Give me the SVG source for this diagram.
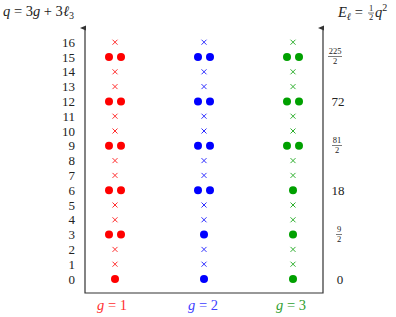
<svg xmlns="http://www.w3.org/2000/svg" width="396" height="317" viewBox="0 0 396 317">
<style>
text{font-family:"Liberation Serif","DejaVu Serif",serif;fill:#222}
.n{font-size:13px;text-anchor:end}
.r{font-size:13px;text-anchor:middle}
.f{font-size:8.5px;text-anchor:middle}
.i{font-style:italic}
.ax{stroke:#333;stroke-width:1.2;fill:none}
.xr{stroke:#ff3030;stroke-width:1}
.xb{stroke:#3030ff;stroke-width:1}
.xg{stroke:#30b030;stroke-width:1}
.dr{fill:#ff0000}
.db{fill:#0000ff}
.dg{fill:#00a000}
</style>
<defs>
<marker id="ah" markerWidth="6" markerHeight="6" refX="3" refY="5" orient="auto-start-reverse" markerUnits="userSpaceOnUse" viewBox="0 0 6 6">
<path d="M0.5,6 L3,0 L5.5,6 Z" fill="#333"/>
</marker>
<path id="x" d="M-2.5,-2.5 L2.5,2.5 M-2.5,2.5 L2.5,-2.5"/>
</defs>
<g id="titles">
<text x="3" y="16" font-size="14.5"><tspan class="i">q</tspan> = 3<tspan class="i">g</tspan> + 3<tspan class="i">ℓ</tspan><tspan font-size="10" dy="3">3</tspan></text>
<text x="338" y="17" font-size="14.5"><tspan class="i">E</tspan><tspan class="i" font-size="10" dy="3">ℓ</tspan><tspan dy="-3"> = </tspan></text>
<text x="371" y="11" class="f" font-size="7.5">1</text>
<line x1="368" y1="13" x2="374" y2="13" stroke="#222" stroke-width="0.6"/>
<text x="371" y="20" class="f" font-size="7.5">2</text>
<text x="375" y="17" font-size="14.5"><tspan class="i">q</tspan><tspan font-size="10" dy="-6">2</tspan></text>
</g>
<g id="connectors">
<path class="ax" d="M85,28 L85,293 L323,293 L323,28" marker-start="url(#ah)" marker-end="url(#ah)"/>
</g>
<g id="qlabels">
<text class="n" x="75" y="283.5">0</text>
<text class="n" x="75" y="268.7">1</text>
<text class="n" x="75" y="253.9">2</text>
<text class="n" x="75" y="239.1">3</text>
<text class="n" x="75" y="224.3">4</text>
<text class="n" x="75" y="209.5">5</text>
<text class="n" x="75" y="194.7">6</text>
<text class="n" x="75" y="179.9">7</text>
<text class="n" x="75" y="165.1">8</text>
<text class="n" x="75" y="150.3">9</text>
<text class="n" x="75" y="135.5">10</text>
<text class="n" x="75" y="120.7">11</text>
<text class="n" x="75" y="105.9">12</text>
<text class="n" x="75" y="91.1">13</text>
<text class="n" x="75" y="76.3">14</text>
<text class="n" x="75" y="61.5">15</text>
<text class="n" x="75" y="46.7">16</text>
</g>
<g id="elabels">
<text class="r" x="340" y="283.5">0</text>
<text class="f" x="339" y="232">9</text>
<line x1="336" y1="234.5" x2="342" y2="234.5" stroke="#222" stroke-width="0.6"/>
<text class="f" x="339" y="241.5">2</text>
<text class="r" x="338" y="194.7">18</text>
<text class="f" x="337" y="143">81</text>
<line x1="332" y1="145.5" x2="342" y2="145.5" stroke="#222" stroke-width="0.6"/>
<text class="f" x="337" y="152.5">2</text>
<text class="r" x="338" y="105.9">72</text>
<text class="f" x="335" y="54">225</text>
<line x1="328" y1="56.5" x2="342" y2="56.5" stroke="#222" stroke-width="0.6"/>
<text class="f" x="335" y="63.5">2</text>
</g>
<g id="col-g1">
<circle class="dr" cx="115" cy="279" r="4"/>
<use href="#x" class="xr" x="115" y="264.2"/>
<use href="#x" class="xr" x="115" y="249.4"/>
<circle class="dr" cx="109" cy="234.6" r="4"/><circle class="dr" cx="121" cy="234.6" r="4"/>
<use href="#x" class="xr" x="115" y="219.8"/>
<use href="#x" class="xr" x="115" y="205"/>
<circle class="dr" cx="109" cy="190.2" r="4"/><circle class="dr" cx="121" cy="190.2" r="4"/>
<use href="#x" class="xr" x="115" y="175.4"/>
<use href="#x" class="xr" x="115" y="160.6"/>
<circle class="dr" cx="109" cy="145.8" r="4"/><circle class="dr" cx="121" cy="145.8" r="4"/>
<use href="#x" class="xr" x="115" y="131"/>
<use href="#x" class="xr" x="115" y="116.2"/>
<circle class="dr" cx="109" cy="101.4" r="4"/><circle class="dr" cx="121" cy="101.4" r="4"/>
<use href="#x" class="xr" x="115" y="86.6"/>
<use href="#x" class="xr" x="115" y="71.8"/>
<circle class="dr" cx="109" cy="57" r="4"/><circle class="dr" cx="121" cy="57" r="4"/>
<use href="#x" class="xr" x="115" y="42.2"/>
<text x="112" y="310" font-size="14.5" text-anchor="middle" style="fill:#ff3030"><tspan class="i">g</tspan> = 1</text>
</g>
<g id="col-g2">
<circle class="db" cx="204" cy="279" r="4"/>
<use href="#x" class="xb" x="204" y="264.2"/>
<use href="#x" class="xb" x="204" y="249.4"/>
<circle class="db" cx="204" cy="234.6" r="4"/>
<use href="#x" class="xb" x="204" y="219.8"/>
<use href="#x" class="xb" x="204" y="205"/>
<circle class="db" cx="198" cy="190.2" r="4"/><circle class="db" cx="210" cy="190.2" r="4"/>
<use href="#x" class="xb" x="204" y="175.4"/>
<use href="#x" class="xb" x="204" y="160.6"/>
<circle class="db" cx="198" cy="145.8" r="4"/><circle class="db" cx="210" cy="145.8" r="4"/>
<use href="#x" class="xb" x="204" y="131"/>
<use href="#x" class="xb" x="204" y="116.2"/>
<circle class="db" cx="198" cy="101.4" r="4"/><circle class="db" cx="210" cy="101.4" r="4"/>
<use href="#x" class="xb" x="204" y="86.6"/>
<use href="#x" class="xb" x="204" y="71.8"/>
<circle class="db" cx="198" cy="57" r="4"/><circle class="db" cx="210" cy="57" r="4"/>
<use href="#x" class="xb" x="204" y="42.2"/>
<text x="203" y="310" font-size="14.5" text-anchor="middle" style="fill:#4040ff"><tspan class="i">g</tspan> = 2</text>
</g>
<g id="col-g3">
<circle class="dg" cx="293" cy="279" r="4"/>
<use href="#x" class="xg" x="293" y="264.2"/>
<use href="#x" class="xg" x="293" y="249.4"/>
<circle class="dg" cx="293" cy="234.6" r="4"/>
<use href="#x" class="xg" x="293" y="219.8"/>
<use href="#x" class="xg" x="293" y="205"/>
<circle class="dg" cx="293" cy="190.2" r="4"/>
<use href="#x" class="xg" x="293" y="175.4"/>
<use href="#x" class="xg" x="293" y="160.6"/>
<circle class="dg" cx="287" cy="145.8" r="4"/><circle class="dg" cx="299" cy="145.8" r="4"/>
<use href="#x" class="xg" x="293" y="131"/>
<use href="#x" class="xg" x="293" y="116.2"/>
<circle class="dg" cx="287" cy="101.4" r="4"/><circle class="dg" cx="299" cy="101.4" r="4"/>
<use href="#x" class="xg" x="293" y="86.6"/>
<use href="#x" class="xg" x="293" y="71.8"/>
<circle class="dg" cx="287" cy="57" r="4"/><circle class="dg" cx="299" cy="57" r="4"/>
<use href="#x" class="xg" x="293" y="42.2"/>
<text x="291" y="310" font-size="14.5" text-anchor="middle" style="fill:#30a030"><tspan class="i">g</tspan> = 3</text>
</g>
</svg>
